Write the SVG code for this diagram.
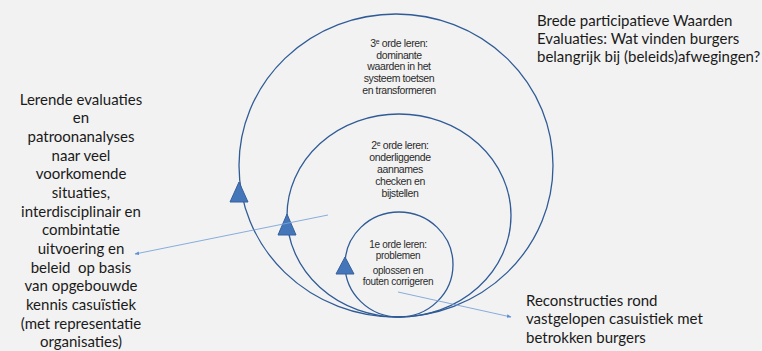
<svg xmlns="http://www.w3.org/2000/svg" width="762" height="351" viewBox="0 0 762 351">
<defs>
<style>
.ring{fill:none;stroke:#2f5b96;stroke-width:1.3}
.tri{fill:#4676ba;stroke:#35609c;stroke-width:1}
.lbl{font-family:"Liberation Sans",Arial,sans-serif;font-size:10.5px;fill:#2b2b2b;text-anchor:middle;letter-spacing:-0.4px}
.sm{font-size:10px;letter-spacing:-0.3px}
.big{font-family:Lato,"Open Sans",sans-serif;font-size:15px;fill:#1a1a1a}
.mid{text-anchor:middle}
.conn{stroke:#7aa4da;stroke-width:0.9;fill:none}
</style>
<marker id="ah" viewBox="0 0 10 10" refX="9" refY="5" markerWidth="5" markerHeight="5" orient="auto">
<path d="M0,1 L10,5 L0,9 z" fill="#5b8fd0"/>
</marker>
</defs>
<rect width="762" height="351" fill="#f2f2f2"/>
<g id="outer">
<ellipse class="ring" cx="396" cy="165.5" rx="157" ry="151.5"/>
<polygon class="tri" points="239,182 230,202 248,202"/>
<text class="lbl" x="399" y="46.5"><tspan>3</tspan><tspan font-size="7" dy="-3">e</tspan><tspan dy="3"> orde leren:</tspan></text>
<text class="lbl" x="399" y="58.5">dominante</text>
<text class="lbl" x="399" y="70">waarden in het</text>
<text class="lbl" x="399" y="81.5">systeem toetsen</text>
<text class="lbl" x="399" y="93.5">en transformeren</text>
</g>
<g id="middle">
<ellipse class="ring" cx="399" cy="215.5" rx="112" ry="101.5"/>
<polygon class="tri" points="287,214 278,235 296,235"/>
<text class="lbl" x="400" y="148.5"><tspan>2</tspan><tspan font-size="7" dy="-3">e</tspan><tspan dy="3"> orde leren:</tspan></text>
<text class="lbl" x="400" y="160.5">onderliggende</text>
<text class="lbl" x="400" y="172.5">aannames</text>
<text class="lbl" x="400" y="184.5">checken en</text>
<text class="lbl" x="400" y="196.5">bijstellen</text>
</g>
<g id="inner">
<ellipse class="ring" cx="399" cy="264.5" rx="54" ry="52.5"/>
<polygon class="tri" points="345,257 336,274 354,274"/>
<text class="lbl sm" x="398" y="248">1e orde leren:</text>
<text class="lbl sm" x="398" y="259">problemen</text>
<text class="lbl sm" x="398" y="273.5">oplossen en</text>
<text class="lbl sm" x="398" y="284.5">fouten corrigeren</text>
</g>
<g id="top-right">
<text class="big" x="537" y="25.7">Brede participatieve Waarden</text>
<text class="big" x="537" y="44.3">Evaluaties: Wat vinden burgers</text>
<text class="big" x="537" y="62.3">belangrijk bij (beleids)afwegingen?</text>
</g>
<g id="left-text">
<text class="big mid" x="81" y="104.5">Lerende evaluaties</text>
<text class="big mid" x="81" y="123.2">en</text>
<text class="big mid" x="81" y="141.8">patroonanalyses</text>
<text class="big mid" x="81" y="160.5">naar veel</text>
<text class="big mid" x="81" y="179.2">voorkomende</text>
<text class="big mid" x="81" y="197.8">situaties,</text>
<text class="big mid" x="81" y="216.5">interdisciplinair en</text>
<text class="big mid" x="81" y="235.2">combintatie</text>
<text class="big mid" x="81" y="253.8">uitvoering en</text>
<text class="big mid" x="81" y="272.5" style="white-space:pre">beleid  op basis</text>
<text class="big mid" x="81" y="291.2">van opgebouwde</text>
<text class="big mid" x="81" y="309.8">kennis casuïstiek</text>
<text class="big mid" x="81" y="328.5">(met representatie</text>
<text class="big mid" x="81" y="347.2">organisaties)</text>
</g>
<g id="bottom-right">
<text class="big" x="526" y="305.5">Reconstructies rond</text>
<text class="big" x="526" y="324">vastgelopen casuistiek met</text>
<text class="big" x="526" y="343">betrokken burgers</text>
</g>
<g id="connectors">
<line class="conn" x1="328" y1="215" x2="135" y2="254" marker-end="url(#ah)"/>
<line class="conn" x1="398" y1="292" x2="511" y2="317" marker-end="url(#ah)"/>
</g>
</svg>
